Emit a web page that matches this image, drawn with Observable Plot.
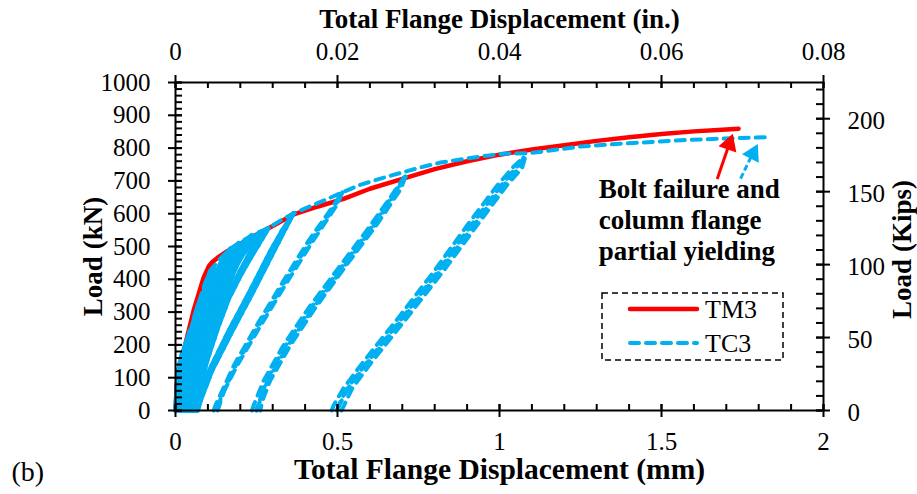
<!DOCTYPE html>
<html>
<head>
<meta charset="utf-8">
<script src="https://cdn.jsdelivr.net/npm/d3@7"></script>
<script src="https://cdn.jsdelivr.net/npm/@observablehq/plot@0.6"></script>
<style>
  html, body { margin: 0; padding: 0; background: #fff; }
  #chart { width: 917px; height: 494px; }
</style>
</head>
<body>
<div id="chart"></div>
<script>
// Load vs. total flange displacement, TM3 (monotonic) and TC3 (cyclic)
const RED = "#ff0000";
const BLUE = "#00b0f0";
const FONT = "'Liberation Serif', 'Times New Roman', serif";
const KN_PER_KIP = 4.448;
const MM_PER_IN_AXIS = 25; // secondary axis: 0.08 in spans the 2 mm frame

// axis ticks
const xTicksMm = [0, 0.5, 1, 1.5, 2];
const yTicksKn = [0, 100, 200, 300, 400, 500, 600, 700, 800, 900, 1000];
const topTicksIn = [0, 0.02, 0.04, 0.06, 0.08];
const topTickLabels = ["0", "0.02", "0.04", "0.06", "0.08"];
const rightTicksKips = [0, 50, 100, 150, 200];

// TM3 monotonic curve [mm, kN]
const tm3 = [[0,0],[0.004,80],[0.01,125],[0.03,200],[0.056,305],[0.087,406],[0.103,440],[0.113,452],
  [0.13,466],[0.16,486],[0.2,508],[0.231,526],[0.293,559],[0.365,598],[0.44,622],[0.519,645],
  [0.6,676],[0.7,706],[0.8,736],[0.9,760],[1.0,780],[1.1,796],[1.2,809],[1.3,822],[1.4,833],
  [1.5,843],[1.6,851],[1.7,857],[1.738,859]];

// TC3 backbone through the cycle peaks up to failure
const tc3Envelope = [[0,0],[0.003,60],[0.006,122],[0.02,175],[0.04,223],[0.071,326],[0.09,385],
  [0.108,427],[0.14,465],[0.17,494],[0.2,514],[0.231,530],[0.26,545],[0.287,556],[0.33,583],
  [0.364,601],[0.41,620],[0.448,636],[0.515,665],[0.57,688],[0.633,707],[0.7,726],[0.756,741],
  [0.818,756],[0.91,770],[1.012,783],[1.085,784],[1.136,790],[1.25,805],[1.37,813],[1.457,818],
  [1.56,824],[1.66,828],[1.75,831],[1.827,833]];

// TC3 unload/reload cycles, grouped by amplitude
const tc3Cycles1 = [
  [[0,0],[0.004,70],[0.008,120],[0.02,170],[0.03,200],[0.04,223],[0.035,190],[0.025,130],[0.015,60],[0.01,0]],
  [[0.004,0],[0.01,80],[0.02,150],[0.032,205],[0.045,245],[0.04,215],[0.03,160],[0.02,90],[0.012,0]],
  [[0.01,0],[0.016,70],[0.026,140],[0.045,230],[0.06,290],[0.071,326],[0.063,280],[0.048,200],[0.032,110],[0.022,40],[0.018,0]],
  [[0.014,0],[0.022,75],[0.034,150],[0.052,240],[0.068,305],[0.08,345],[0.07,300],[0.055,220],[0.038,125],[0.027,50],[0.022,0]],
  [[0.018,0],[0.025,60],[0.04,150],[0.06,250],[0.08,330],[0.095,390],[0.108,427],[0.098,380],[0.08,300],[0.06,200],[0.042,110],[0.03,40],[0.026,0]],
  [[0.02,0],[0.028,60],[0.043,150],[0.064,250],[0.085,330],[0.1,380],[0.09,335],[0.072,255],[0.052,155],[0.036,65],[0.028,0]],
  [[0.022,0],[0.03,55],[0.046,150],[0.067,255],[0.088,340],[0.104,395],[0.118,435],[0.106,385],[0.088,305],[0.068,210],[0.048,115],[0.036,45],[0.031,0]],
  [[0.026,0],[0.035,60],[0.05,140],[0.075,250],[0.1,350],[0.125,420],[0.15,470],[0.17,494],[0.155,450],[0.13,380],[0.105,300],[0.08,200],[0.058,110],[0.042,40],[0.036,0]],
  [[0.028,0],[0.038,60],[0.054,145],[0.08,255],[0.105,350],[0.128,420],[0.145,460],[0.13,420],[0.108,345],[0.085,255],[0.062,150],[0.044,60],[0.036,0]],
  [[0.03,0],[0.04,60],[0.056,145],[0.082,255],[0.108,355],[0.133,425],[0.158,470],[0.18,498],[0.163,455],[0.138,385],[0.112,305],[0.087,205],[0.064,112],[0.048,40],[0.04,0]],
  [[0.034,0],[0.044,60],[0.06,140],[0.087,255],[0.115,355],[0.142,430],[0.172,480],[0.195,510],[0.178,470],[0.152,405],[0.124,325],[0.095,220],[0.07,120],[0.052,45],[0.043,0]],
  [[0.036,0],[0.046,60],[0.062,140],[0.09,260],[0.12,360],[0.15,430],[0.185,490],[0.21,515],[0.231,530],[0.212,488],[0.186,438],[0.156,368],[0.126,288],[0.097,190],[0.073,100],[0.055,30],[0.046,0]],
  [[0.04,0],[0.052,60],[0.07,150],[0.1,270],[0.13,370],[0.16,440],[0.195,495],[0.225,525],[0.202,478],[0.171,412],[0.136,318],[0.106,218],[0.079,120],[0.06,40],[0.05,0]],
  [[0.043,0],[0.055,65],[0.075,165],[0.105,280],[0.136,380],[0.168,450],[0.2,500],[0.235,535],[0.21,484],[0.178,418],[0.143,328],[0.111,224],[0.084,124],[0.064,45],[0.053,0]],
  [[0.046,0],[0.058,60],[0.075,140],[0.1,240],[0.13,340],[0.16,420],[0.195,480],[0.24,525],[0.287,556],[0.25,495],[0.212,435],[0.172,360],[0.138,295],[0.104,200],[0.08,115],[0.063,40],[0.055,0]],
  [[0.048,0],[0.06,60],[0.08,150],[0.105,250],[0.135,350],[0.165,430],[0.2,490],[0.235,525],[0.265,545],[0.236,490],[0.2,425],[0.164,350],[0.132,265],[0.1,170],[0.076,80],[0.061,20],[0.057,0]],
  [[0.05,0],[0.064,70],[0.085,160],[0.11,250],[0.14,350],[0.17,430],[0.21,495],[0.25,530],[0.28,550],[0.24,480],[0.2,410],[0.164,340],[0.13,250],[0.097,150],[0.073,60],[0.06,0]],
  [[0.052,0],[0.066,65],[0.09,165],[0.118,265],[0.15,365],[0.185,440],[0.225,500],[0.26,535],[0.228,478],[0.192,412],[0.156,335],[0.123,245],[0.093,145],[0.07,55],[0.058,0]]
];
const tc3Cycles2 = [
  [[0.056,0],[0.062,15],[0.104,122],[0.165,244],[0.226,357],[0.294,488],[0.33,550],[0.364,601]],
  [[0.364,601],[0.345,565],[0.305,488],[0.237,357],[0.176,244],[0.113,122],[0.075,25],[0.068,0]],
  [[0.068,0],[0.08,40],[0.11,122],[0.17,244],[0.232,357],[0.3,488],[0.34,560],[0.36,595]],
  [[0.36,595],[0.34,560],[0.3,485],[0.232,352],[0.171,240],[0.108,118],[0.074,35],[0.063,0]]
];
const tc3Cycles3 = [
  [[0.118,0],[0.123,15],[0.18,137],[0.256,268],[0.334,396],[0.411,518],[0.47,600],[0.515,665]],
  [[0.515,665],[0.5,630],[0.425,518],[0.347,396],[0.268,268],[0.19,137],[0.14,40],[0.13,0]],
  [[0.13,0],[0.15,60],[0.186,137],[0.262,268],[0.34,396],[0.418,518],[0.48,605],[0.505,645]]
];
const tc3Cycles4 = [
  [[0.236,0],[0.241,15],[0.272,91],[0.333,198],[0.41,311],[0.502,433],[0.595,555],[0.66,645],[0.705,710]],
  [[0.705,710],[0.69,680],[0.61,560],[0.516,433],[0.424,311],[0.347,198],[0.285,91],[0.255,20],[0.25,0]],
  [[0.25,0],[0.265,40],[0.28,91],[0.34,198],[0.417,311],[0.509,433],[0.602,555],[0.67,655],[0.71,713]],
  [[0.71,713],[0.695,675],[0.62,565],[0.525,440],[0.43,311],[0.354,198],[0.292,91],[0.268,30],[0.262,0]]
];
const tc3Cycles5 = [
  [[0.482,0],[0.488,15],[0.518,67],[0.578,146],[0.686,280],[0.8,427],[0.9,564],[0.993,686],[1.045,745],[1.074,771]],
  [[1.074,771],[1.065,745],[1.013,686],[0.92,564],[0.818,427],[0.702,280],[0.594,146],[0.532,67],[0.505,15],[0.498,0]],
  [[0.498,0],[0.51,30],[0.53,67],[0.59,146],[0.698,280],[0.812,427],[0.912,564],[1.005,686],[1.055,745],[1.078,768]],
  [[1.078,768],[1.07,740],[1.022,686],[0.93,564],[0.828,427],[0.712,280],[0.604,146],[0.545,67],[0.52,15],[0.512,0]]
];

// failure note and its pointers
const noteLines = ["Bolt failure and", "column flange", "partial yielding"];
const noteX = 1.306;
const noteY = [674, 579, 485];
const noteArrows = [
  {x1: 1.672, y1: 706, x2: 1.704, y2: 798, hx: 1.709, hy: 812, angle: 19, color: RED, dash: null},
  {x1: 1.744, y1: 707, x2: 1.775, y2: 770, hx: 1.782, hy: 783, angle: 27, color: BLUE, dash: "6,3"}
];

const toRows = paths => paths.flatMap((path, i) => path.map(([mm, kN]) => ({mm, kN, path: i})));
const tm3Rows = tm3.map(([mm, kN]) => ({mm, kN}));
// densely repeated small cycles merge into a solid band
const tc3DenseRows = toRows([...tc3Cycles1, ...tc3Cycles2]);
const tc3DashedRows = toRows([tc3Envelope, ...tc3Cycles3, ...tc3Cycles4, ...tc3Cycles5]);

const W = 917, H = 494;
const mL = 175, mR = 94, mT = 82, mB = 84;
const frameW = W - mL - mR, frameH = H - mT - mB;

const xMinor = d3.range(0, 2.0001, 0.1);
const yMinor = d3.range(0, 1000.001, 20);
const rightMinorKn = d3.range(0, 220.001, 10).map(k => k * KN_PER_KIP);
const rightMajorKn = rightTicksKips.map(k => k * KN_PER_KIP);
const topMajorMm = topTicksIn.map(v => v * MM_PER_IN_AXIS);

const axisStroke = {stroke: "black", strokeWidth: 2};
const txt = {fontFamily: FONT, lineAnchor: "middle", fill: "black"};
const tc3Style = {x: "mm", y: "kN", z: "path", stroke: BLUE, strokeLinecap: "round", strokeLinejoin: "round"};

const plot = Plot.plot({
  width: W,
  height: H,
  marginLeft: mL,
  marginRight: mR,
  marginTop: mT,
  marginBottom: mB,
  style: {fontFamily: FONT, fontSize: "25px", background: "white", overflow: "visible"},
  x: {domain: [0, 2], axis: null},
  y: {domain: [0, 1000], axis: null},
  marks: [
    // data
    Plot.line(tm3Rows, {x: "mm", y: "kN", stroke: RED, strokeWidth: 4.5, strokeLinecap: "round", strokeLinejoin: "round"}),
    Plot.line(tc3DenseRows, {...tc3Style, strokeWidth: 4.5, strokeDasharray: "9,7"}),
    Plot.line(tc3DenseRows, {...tc3Style, strokeWidth: 4.5, strokeDasharray: "9,7", strokeDashoffset: 8}),
    Plot.line(tc3DashedRows, {...tc3Style, strokeWidth: 4, strokeDasharray: "9,7"}),

    // frame and ticks
    Plot.frame({stroke: "black", strokeWidth: 2}),
    Plot.tickX(xMinor, {x: d => d, ...axisStroke, insetTop: frameH - 6, insetBottom: 0}),
    Plot.tickX(xMinor, {x: d => d, ...axisStroke, insetTop: 0, insetBottom: frameH - 6}),
    Plot.tickX(xTicksMm, {x: d => d, ...axisStroke, insetTop: frameH - 6, insetBottom: -7}),
    Plot.tickX(topMajorMm, {x: d => d, ...axisStroke, insetTop: -7, insetBottom: frameH - 6}),
    Plot.tickY(yMinor, {y: d => d, ...axisStroke, insetLeft: 0, insetRight: frameW - 7}),
    Plot.tickY(yTicksKn, {y: d => d, ...axisStroke, insetLeft: -7, insetRight: frameW - 7}),
    Plot.tickY(rightMinorKn, {y: d => d, ...axisStroke, insetLeft: frameW - 7, insetRight: 0}),
    Plot.tickY(rightMajorKn, {y: d => d, ...axisStroke, insetLeft: frameW - 7, insetRight: -7}),

    // tick labels
    Plot.text(xTicksMm, {x: d => d, frameAnchor: "bottom", dy: 31, text: d => String(d), textAnchor: "middle", fontSize: 25, ...txt}),
    Plot.text(topMajorMm, {x: d => d, frameAnchor: "top", dy: -31, text: (d, i) => topTickLabels[i], textAnchor: "middle", fontSize: 25, ...txt}),
    Plot.text(yTicksKn, {y: d => d, frameAnchor: "left", dx: -25, text: d => String(d), textAnchor: "end", fontSize: 25, ...txt}),
    Plot.text(rightMajorKn, {y: d => d, frameAnchor: "right", dx: 24, dy: 2, text: (d, i) => String(rightTicksKips[i]), textAnchor: "start", fontSize: 25, ...txt}),

    // axis titles
    Plot.text(["Total Flange Displacement (in.)"], {text: d => d, frameAnchor: "top", dy: -63, textAnchor: "middle", fontSize: 27, fontWeight: "bold", ...txt}),
    Plot.text(["Total Flange Displacement (mm)"], {text: d => d, frameAnchor: "bottom", dy: 59, textAnchor: "middle", fontSize: 29.5, fontWeight: "bold", ...txt}),
    Plot.text(["Load (kN)"], {text: d => d, frameAnchor: "left", dx: -82, dy: 10, rotate: -90, textAnchor: "middle", fontSize: 27, fontWeight: "bold", ...txt}),
    Plot.text(["Load (Kips)"], {text: d => d, frameAnchor: "right", dx: 79, dy: 3, rotate: -90, textAnchor: "middle", fontSize: 27, fontWeight: "bold", ...txt}),
    Plot.text(["(b)"], {text: d => d, frameAnchor: "bottom-left", dx: -164, dy: 62, textAnchor: "start", fontSize: 28, ...txt}),

    // failure note
    Plot.text(noteLines, {x: noteX, y: (d, i) => noteY[i], text: d => d, textAnchor: "start", fontSize: 27, fontWeight: "bold", ...txt}),
    Plot.link(noteArrows.filter(a => !a.dash), {x1: "x1", y1: "y1", x2: "x2", y2: "y2", stroke: "color", strokeWidth: 3}),
    Plot.link(noteArrows.filter(a => a.dash), {x1: "x1", y1: "y1", x2: "x2", y2: "y2", stroke: "color", strokeWidth: 3, strokeDasharray: "6,3"}),
    Plot.dot(noteArrows, {x: "hx", y: "hy", symbol: "triangle", r: 7, fill: "color", stroke: "none", rotate: "angle"})
  ]
});

// legend box
const svg = d3.select(plot);
const legend = svg.append("g");
legend.append("rect")
  .attr("x", 602).attr("y", 293).attr("width", 181).attr("height", 67)
  .attr("fill", "white").attr("stroke", "black").attr("stroke-width", 1.5).attr("stroke-dasharray", "6,4");
const legendItems = [
  {label: "TM3", color: RED, dash: null, y: 309},
  {label: "TC3", color: BLUE, dash: "9,7", y: 343}
];
legendItems.forEach(item => {
  legend.append("line")
    .attr("x1", 630).attr("x2", 697).attr("y1", item.y).attr("y2", item.y)
    .attr("stroke", item.color).attr("stroke-width", item.dash ? 4 : 4.5)
    .attr("stroke-linecap", "round")
    .attr("stroke-dasharray", item.dash);
  legend.append("text")
    .attr("x", 705).attr("y", item.y + 8.5)
    .attr("text-anchor", "start")
    .attr("font-family", FONT)
    .attr("font-size", 26).attr("fill", "black")
    .text(item.label);
});

document.getElementById("chart").appendChild(plot);
</script>
</body>
</html>
